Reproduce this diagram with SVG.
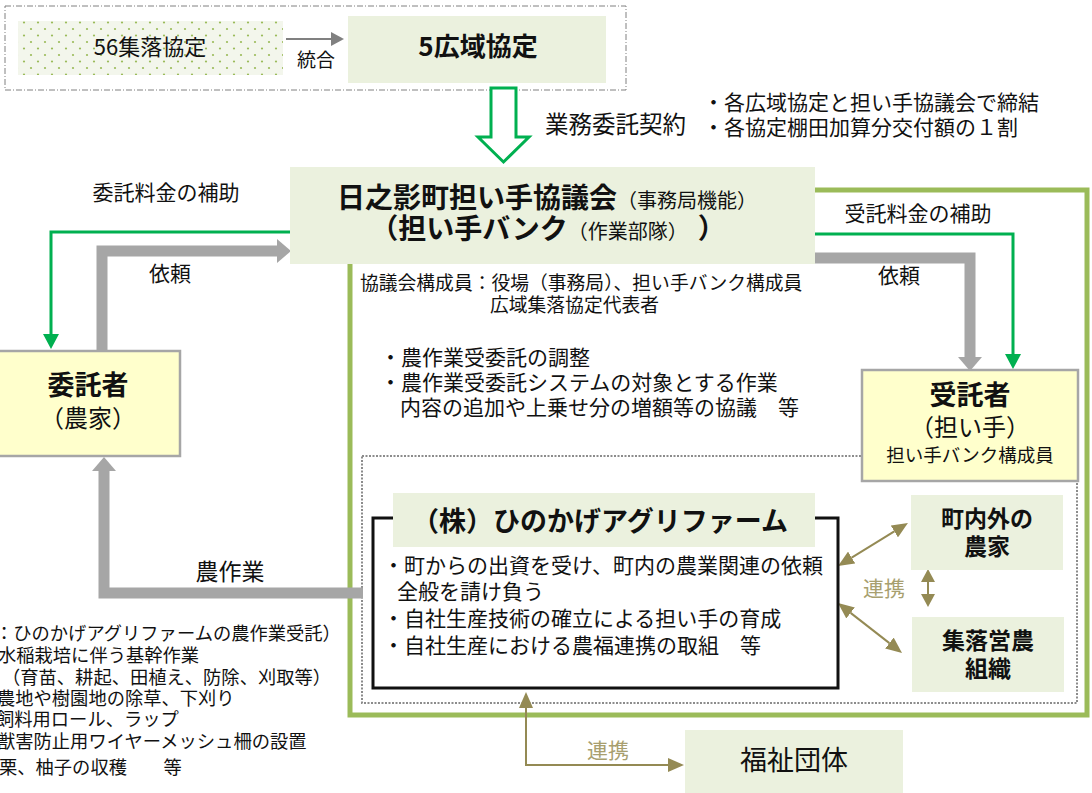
<svg xmlns="http://www.w3.org/2000/svg" width="1092" height="793" viewBox="0 0 1092 793">
<style>
text{font-family:'Noto Sans CJK JP','Noto Sans',sans-serif;fill:#111;}
.b{font-weight:bold;}
.c{text-anchor:middle;}
.olt{fill:#a89f6f;}
.lg{fill:#ebf1de;stroke:none;}
.yl{fill:#ffffcc;stroke:#a6a6a6;stroke-width:2.5;}
.gl{fill:none;stroke:#00b050;stroke-width:3;}
.gr{fill:none;stroke:#a6a6a6;stroke-width:11;}
.ol{fill:none;stroke:#948a54;stroke-width:2;}
</style>
<defs>
<pattern id="dots" width="14" height="13" patternUnits="userSpaceOnUse">
<rect width="14" height="13" fill="#f3f6ec"/>
<circle cx="3" cy="3" r="1.1" fill="#9bbb59"/>
<circle cx="10" cy="9.5" r="1.1" fill="#9bbb59"/>
</pattern>
<marker id="mGreen" markerUnits="userSpaceOnUse" markerWidth="16" markerHeight="16" refX="0" refY="8" orient="auto" viewBox="0 0 16 16">
<path d="M0,0 L15,8 L0,16 Z" fill="#00b050"/>
</marker>
<marker id="mGray" markerUnits="userSpaceOnUse" markerWidth="14" markerHeight="24" refX="0" refY="12" orient="auto" viewBox="0 0 14 24">
<path d="M0,0 L14,12 L0,24 Z" fill="#a6a6a6"/>
</marker>
<marker id="mDark" markerUnits="userSpaceOnUse" markerWidth="13" markerHeight="14" refX="0" refY="7" orient="auto" viewBox="0 0 13 14">
<path d="M0,0 L13,7 L0,14 Z" fill="#808080"/>
</marker>
<marker id="mOl" markerUnits="userSpaceOnUse" markerWidth="16" markerHeight="14" refX="0" refY="7" orient="auto-start-reverse" viewBox="0 0 16 14">
<path d="M0,0 L16,7 L0,14 Z" fill="#948a54"/>
</marker>
<marker id="mOlS" markerUnits="userSpaceOnUse" markerWidth="13" markerHeight="14" refX="0" refY="7" orient="auto-start-reverse" viewBox="0 0 13 14">
<path d="M0,0 L13,7 L0,14 Z" fill="#948a54"/>
</marker>
</defs>
<rect width="1092" height="793" fill="#ffffff"/>

<g id="frames">
<rect x="5" y="6" width="621" height="84" fill="none" stroke="#808080" stroke-width="1" stroke-dasharray="6,2,1,2"/>
<rect x="350" y="190" width="737" height="525" fill="none" stroke="#9bbb59" stroke-width="5"/>
<rect x="362" y="456" width="715" height="247" fill="none" stroke="#8c8c8c" stroke-width="2" stroke-dasharray="2,1.5"/>
</g>

<g id="connectors">
<path class="gl" d="M290,232 H51 V334" marker-end="url(#mGreen)"/>
<path class="gr" d="M102,351 V251 H277" marker-end="url(#mGray)"/>
<path class="gl" d="M815,234 H1013 V354" marker-end="url(#mGreen)"/>
<path class="gr" d="M815,258 H970 V357" marker-end="url(#mGray)"/>
<path class="gr" d="M363,593 H104 V471" marker-end="url(#mGray)"/>
<path d="M286,39 H331" fill="none" stroke="#808080" stroke-width="2" marker-end="url(#mDark)"/>
<polygon points="491,88 516,88 516,137 529,137 503.5,162 478,137 491,137" fill="#ffffff" stroke="#00b050" stroke-width="3"/>
<path class="ol" d="M851.7,557.6 L894.3,531.4" marker-start="url(#mOl)" marker-end="url(#mOl)"/>
<path class="ol" d="M850.6,612.9 L889.4,643.1" marker-start="url(#mOl)" marker-end="url(#mOl)"/>
<path class="ol" d="M928,582 V594" marker-start="url(#mOlS)" marker-end="url(#mOlS)"/>
<path class="ol" d="M526,708 V765 H668" marker-start="url(#mOl)" marker-end="url(#mOl)"/>
</g>

<g id="labels">
<text x="316" y="67" class="c" font-size="19">統合</text>
<text x="545" y="133" font-size="23.5">業務委託契約</text>
<text x="703" y="110" font-size="21">・各広域協定と担い手協議会で締結</text>
<text x="703" y="135" font-size="21">・各協定棚田加算分交付額の１割</text>
<text x="166" y="200" class="c" font-size="21">委託料金の補助</text>
<text x="170" y="281" class="c" font-size="21">依頼</text>
<text x="918" y="221" class="c" font-size="21">受託料金の補助</text>
<text x="899" y="283" class="c" font-size="21">依頼</text>
<text x="230" y="580" class="c" font-size="23">農作業</text>
<text x="884" y="596" class="c olt" font-size="21">連携</text>
<text x="608" y="758" class="c olt" font-size="21">連携</text>
<text x="360" y="290" font-size="18.8">協議会構成員：役場（事務局）、担い手バンク構成員</text>
<text x="490" y="312" font-size="18.8">広域集落協定代表者</text>
<text x="380" y="365" font-size="21">・農作業受委託の調整</text>
<text x="380" y="390" font-size="21">・農作業受委託システムの対象とする作業</text>
<text x="400" y="415" font-size="21">内容の追加や上乗せ分の増額等の協議　等</text>
<text x="-5" y="640" font-size="18.3">：ひのかげアグリファームの農作業受託）</text>
<text x="-2" y="662" font-size="18.3">水稲栽培に伴う基幹作業</text>
<text x="2" y="684" font-size="18.3">（育苗、耕起、田植え、防除、刈取等）</text>
<text x="-3" y="705" font-size="18.3">農地や樹園地の除草、下刈り</text>
<text x="-4" y="726" font-size="18.3">飼料用ロール、ラップ</text>
<text x="-3" y="748" font-size="18.3">獣害防止用ワイヤーメッシュ柵の設置</text>
<text x="-1" y="774" font-size="18.3">栗、柚子の収穫　　等</text>
</g>

<g id="node-56">
<rect x="18" y="21" width="265" height="54" fill="url(#dots)"/>
<text x="150" y="55" class="c" font-size="22">56集落協定</text>
</g>

<g id="node-5koiki">
<rect x="348" y="16" width="258" height="67" class="lg"/>
<text x="478" y="56" class="c b" font-size="26">5広域協定</text>
</g>

<g id="node-kyogikai">
<rect x="290" y="167" width="525" height="97" class="lg"/>
<text x="547" y="208" class="c"><tspan class="b" font-size="28">日之影町担い手協議会</tspan><tspan font-size="20">（事務局機能）</tspan></text>
<text x="548" y="239" class="c"><tspan class="b" font-size="28">（担い手バンク</tspan><tspan font-size="20">（作業部隊）　</tspan><tspan class="b" font-size="28">）</tspan></text>
</g>

<g id="node-itakusha">
<rect x="-3" y="351" width="183" height="105" class="yl"/>
<text x="88" y="395" class="c b" font-size="27">委託者</text>
<text x="88" y="427" class="c" font-size="24">（農家）</text>
</g>

<g id="node-jutakusha">
<rect x="862" y="370" width="216" height="111" class="yl"/>
<text x="970" y="405" class="c b" font-size="27">受託者</text>
<text x="970" y="436" class="c" font-size="24">（担い手）</text>
<text x="970" y="462" class="c" font-size="18.5">担い手バンク構成員</text>
</g>

<g id="node-agrifarm">
<rect x="373" y="518" width="465" height="170" fill="#ffffff" stroke="#111" stroke-width="3"/>
<rect x="393" y="493" width="422" height="54" class="lg"/>
<text x="600" y="531" class="c b" font-size="27">（株）ひのかげアグリファーム</text>
<text x="383" y="573" font-size="21">・町からの出資を受け、町内の農業関連の依頼</text>
<text x="397" y="599" font-size="21">全般を請け負う</text>
<text x="383" y="626" font-size="21">・自社生産技術の確立による担い手の育成</text>
<text x="383" y="653" font-size="21">・自社生産における農福連携の取組　等</text>
</g>

<g id="node-nouka">
<rect x="911" y="495" width="152" height="75" class="lg"/>
<text x="987" y="527" class="c b" font-size="23">町内外の</text>
<text x="987" y="555" class="c b" font-size="23">農家</text>
</g>

<g id="node-shuraku">
<rect x="912" y="617" width="152" height="75" class="lg"/>
<text x="988" y="649" class="c b" font-size="23">集落営農</text>
<text x="988" y="677" class="c b" font-size="23">組織</text>
</g>

<g id="node-fukushi">
<rect x="685" y="730" width="218" height="63" class="lg"/>
<text x="794" y="770" class="c" font-size="27">福祉団体</text>
</g>
</svg>
